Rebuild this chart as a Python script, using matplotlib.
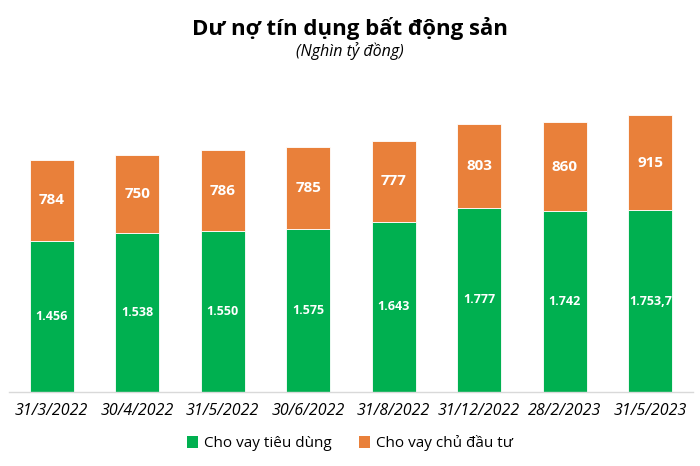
import matplotlib
matplotlib.use("Agg")
import matplotlib.pyplot as plt
from matplotlib.patches import Patch
import numpy as np

# Data (nghìn tỷ đồng)
dates = ["31/3/2022", "30/4/2022", "31/5/2022", "30/6/2022",
         "31/8/2022", "31/12/2022", "28/2/2023", "31/5/2023"]
consumer = [1456, 1538, 1550, 1575, 1643, 1777, 1742, 1753.7]
developer = [784, 750, 786, 785, 777, 803, 860, 915]
consumer_labels = ["1.456", "1.538", "1.550", "1.575", "1.643", "1.777", "1.742", "1.753,7"]
developer_labels = ["784", "750", "786", "785", "777", "803", "860", "915"]

GREEN = "#00B050"
ORANGE = "#E9803A"
FONT = ["Open Sans", "DejaVu Sans"]

plt.rcParams["font.family"] = FONT

fig = plt.figure(figsize=(7, 4.66), dpi=100)
ax = fig.add_axes([9 / 700, 1 - 392 / 466, 684 / 700, 300 / 466])

x = np.arange(len(dates))
width = 0.51
ax.bar(x, consumer, width, color=GREEN, edgecolor="white", linewidth=0.6)
ax.bar(x, developer, width, bottom=consumer, color=ORANGE,
       edgecolor="white", linewidth=0.6)

for i in range(len(dates)):
    ax.text(x[i], consumer[i] / 2, consumer_labels[i], ha="center", va="center",
            color="white", fontsize=9, fontweight="bold")
    ax.text(x[i], consumer[i] + developer[i] / 2, developer_labels[i],
            ha="center", va="center", color="white", fontsize=11, fontweight="bold")

ax.set_xlim(-0.5, len(dates) - 0.5)
ax.set_ylim(0, 300 / 0.1037)
ax.set_xticks(x)
ax.set_xticklabels(dates, fontsize=11.5, fontstyle="italic")
ax.tick_params(axis="x", length=0, pad=8)
ax.set_yticks([])
for side in ["top", "right", "left"]:
    ax.spines[side].set_visible(False)
ax.spines["bottom"].set_color("#D9D9D9")
ax.spines["bottom"].set_linewidth(1)

fig.text(0.5, 1 - 28 / 466, "Dư nợ tín dụng bất động sản", ha="center", va="center",
         fontsize=16, fontweight="bold")
fig.text(0.5, 1 - 51 / 466, "(Nghìn tỷ đồng)", ha="center", va="center",
         fontsize=11.5, fontstyle="italic")

handles = [Patch(facecolor=GREEN), Patch(facecolor=ORANGE)]
fig.legend(handles, ["Cho vay tiêu dùng", "Cho vay chủ đầu tư"],
           loc="center", bbox_to_anchor=(0.5, 1 - 443 / 466), ncol=2,
           frameon=False, fontsize=11, handlelength=0.7, handleheight=0.8,
           columnspacing=1.8, handletextpad=0.4)

fig.savefig("out.png", dpi=100)
